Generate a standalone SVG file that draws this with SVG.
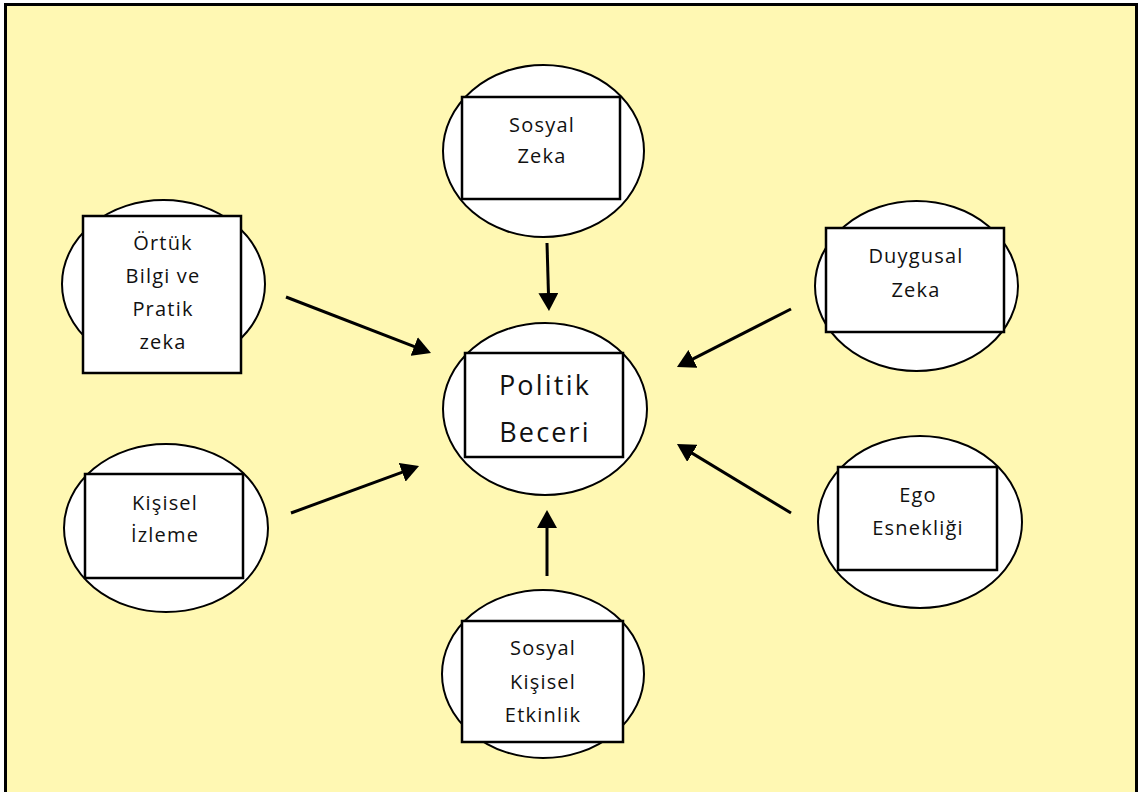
<svg xmlns="http://www.w3.org/2000/svg" width="1138" height="792" viewBox="0 0 1138 792">
<defs>
<style>
.bg{fill:#FFF8B3;stroke:#000;stroke-width:3}
.el{fill:#fff;stroke:#000;stroke-width:2}
.bx{fill:#fff;stroke:#000;stroke-width:2.5}
.t{font-family:"Open Sans","Noto Sans",sans-serif;font-size:20px;letter-spacing:1.2px;fill:#111;text-anchor:middle}
.tb{font-family:"Open Sans","Noto Sans",sans-serif;font-size:27px;letter-spacing:2.2px;fill:#111;text-anchor:middle}
.c{stroke:#000;stroke-width:3;fill:none;marker-end:url(#ah)}
</style>
<marker id="ah" markerUnits="userSpaceOnUse" markerWidth="18" markerHeight="20" refX="12" refY="10" orient="auto" viewBox="0 0 18 20">
<path d="M0,0 L18,10 L0,20 z" fill="#000"/>
</marker>
</defs>
<rect class="bg" x="5.5" y="4.5" width="1131" height="800"/>
<g id="politik">
<ellipse class="el" cx="545" cy="409" rx="102" ry="86"/>
<rect class="bx" x="465" y="353" width="158" height="104"/>
<text class="tb" x="545" y="395">Politik</text>
<text class="tb" x="545" y="442">Beceri</text>
</g>
<g id="sosyal-zeka">
<ellipse class="el" cx="543.5" cy="151" rx="100.5" ry="86"/>
<rect class="bx" x="462" y="97" width="158" height="102"/>
<text class="t" x="542" y="132">Sosyal</text>
<text class="t" x="542" y="163">Zeka</text>
</g>
<g id="ortuk">
<ellipse class="el" cx="163.5" cy="284" rx="101.5" ry="84"/>
<rect class="bx" x="83" y="216" width="158" height="157"/>
<text class="t" x="163" y="250">Örtük</text>
<text class="t" x="163" y="283">Bilgi ve</text>
<text class="t" x="163" y="316">Pratik</text>
<text class="t" x="163" y="349">zeka</text>
</g>
<g id="duygusal">
<ellipse class="el" cx="916.5" cy="286" rx="101.5" ry="85"/>
<rect class="bx" x="826" y="228" width="178" height="104"/>
<text class="t" x="916" y="263">Duygusal</text>
<text class="t" x="916" y="297">Zeka</text>
</g>
<g id="kisisel-izleme">
<ellipse class="el" cx="166" cy="528" rx="102" ry="84"/>
<rect class="bx" x="85" y="474" width="158" height="104"/>
<text class="t" x="165" y="510">Kişisel</text>
<text class="t" x="165" y="542">İzleme</text>
</g>
<g id="ego">
<ellipse class="el" cx="920" cy="522" rx="102" ry="86"/>
<rect class="bx" x="838" y="467" width="159" height="103"/>
<text class="t" x="918" y="502">Ego</text>
<text class="t" x="918" y="535">Esnekliği</text>
</g>
<g id="sosyal-kisisel">
<ellipse class="el" cx="543" cy="674" rx="101" ry="84"/>
<rect class="bx" x="462" y="621" width="161" height="121"/>
<text class="t" x="543" y="655">Sosyal</text>
<text class="t" x="543" y="689">Kişisel</text>
<text class="t" x="543" y="722">Etkinlik</text>
</g>
<g id="connectors">
<line class="c" x1="286" y1="297" x2="425.4" y2="350.8"/>
<line class="c" x1="547" y1="243" x2="548.8" y2="305"/>
<line class="c" x1="791" y1="309" x2="682.3" y2="364.3"/>
<line class="c" x1="791" y1="513" x2="682.1" y2="447.1"/>
<line class="c" x1="547" y1="576" x2="547" y2="516"/>
<line class="c" x1="291" y1="513" x2="413.4" y2="468.1"/>
</g>
</svg>
